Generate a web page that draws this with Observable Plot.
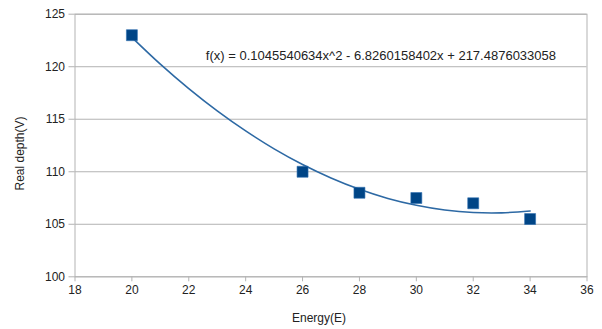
<!DOCTYPE html>
<html><head><meta charset="utf-8">
<script src="https://cdn.jsdelivr.net/npm/d3@7"></script>
<script src="https://cdn.jsdelivr.net/npm/@observablehq/plot@0.6"></script>
<style>
html,body{margin:0;padding:0;background:#fff;}
svg{font-family:"Liberation Sans",Arial,sans-serif;}
</style>
</head><body>
<div id="chart"></div>
<script>
const energy = [20, 26, 28, 30, 32, 34];
const depth = [123, 110, 108, 107.5, 107, 105.5];
const trendX = [20, 21, 22, 23, 24, 25, 26, 27, 28, 29, 30, 31, 32, 33, 34];
const trendY = [122.8, 120.25, 117.92, 115.8, 113.89, 112.18, 110.69, 109.41, 108.33, 107.46, 106.81, 106.36, 106.12, 106.09, 106.27];
const xTicks = [18, 20, 22, 24, 26, 28, 30, 32, 34, 36];
const yTicks = [100, 105, 110, 115, 120, 125];
const equation = ["f(x) = 0.1045540634x^2 - 6.8260158402x + 217.4876033058"];
const eqPos = [{x: 22.6, y: 121.0}];

const points = energy.map((e, i) => ({x: e, y: depth[i]}));
const trend = trendX.map((e, i) => ({x: e, y: trendY[i]}));
const eqData = equation.map((t, i) => ({...eqPos[i], t}));

const chart = Plot.plot({
  width: 602,
  height: 329,
  marginLeft: 74.5,
  marginRight: 15.5,
  marginTop: 13.7,
  marginBottom: 52.7,
  style: {fontSize: "12px", color: "#222", background: "#fff"},
  x: {domain: [18, 36], ticks: xTicks, tickSize: 5, tickPadding: 4, label: null},
  y: {domain: [100, 125], ticks: yTicks, tickSize: 6, tickPadding: 4, label: null},
  marks: [
    Plot.gridY(yTicks, {stroke: "#b3b3b3", strokeOpacity: 1}),
    Plot.frame({stroke: "#b3b3b3"}),
    Plot.axisX({ticks: xTicks, tickSize: 5, tickPadding: 4, stroke: "#b3b3b3", fill: "#222", label: null}),
    Plot.axisY({ticks: yTicks, tickSize: 6, tickPadding: 4, stroke: "#b3b3b3", fill: "#222", label: null}),
    Plot.line(trend, {x: "x", y: "y", stroke: "#2d69a4", strokeWidth: 1.6, curve: "catmull-rom"}),
    Plot.dot(points, {x: "x", y: "y", symbol: "square", r: 6.2, fill: "#004586", stroke: "#2d6fb0", strokeWidth: 0.6}),
    Plot.text(eqData, {x: "x", y: "y", text: "t", textAnchor: "start", fill: "#222", fontSize: 13}),
    Plot.text(["Energy(E)"], {frameAnchor: "bottom", textAnchor: "middle", dx: -12, dy: 45, fill: "#222", fontSize: 12}),
    Plot.text(["Real depth(V)"], {frameAnchor: "left", textAnchor: "middle", lineAnchor: "middle", dx: -55, dy: 8, rotate: -90, fill: "#222", fontSize: 12})
  ]
});
document.getElementById("chart").appendChild(chart);
</script>
</body></html>
